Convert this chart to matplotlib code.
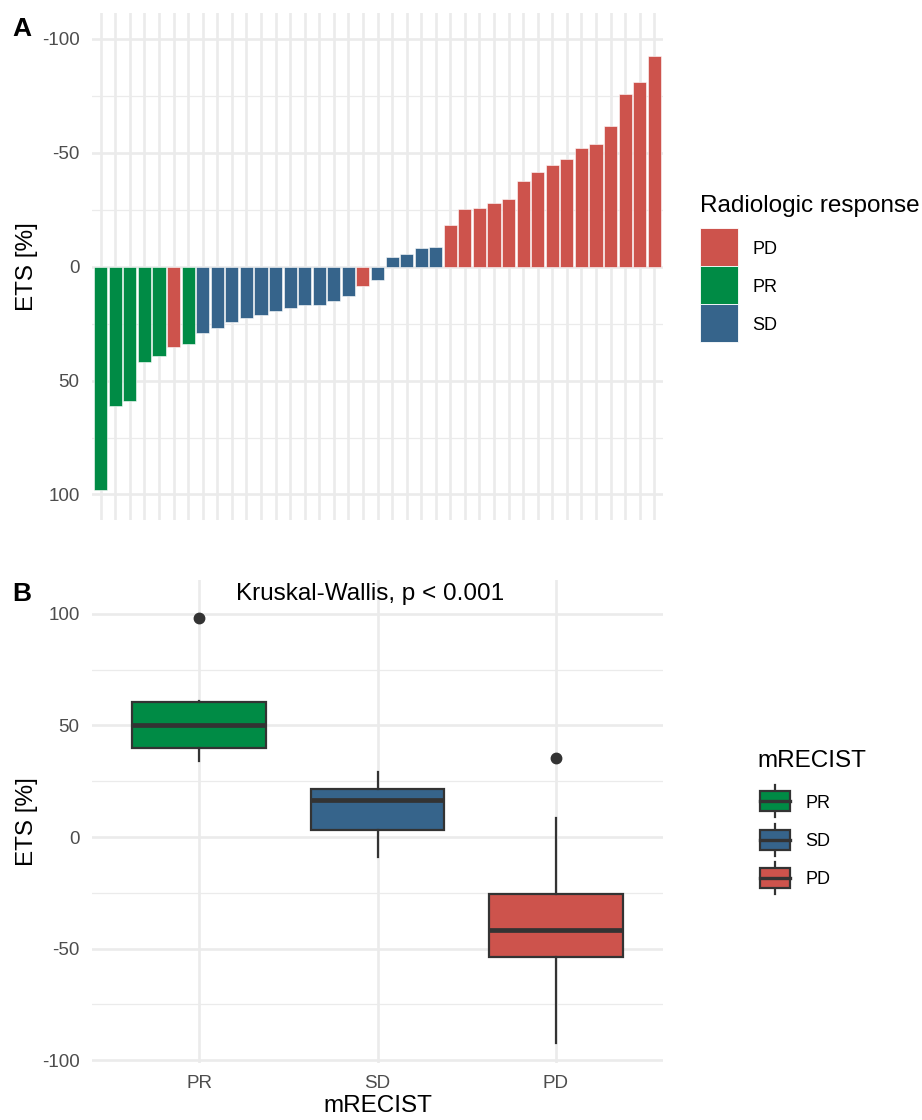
import matplotlib
matplotlib.use("Agg")
import matplotlib.pyplot as plt
from matplotlib.patches import Rectangle
import numpy as np

plt.rcParams['font.family'] = ['Liberation Sans', 'DejaVu Sans']
plt.rcParams['axes.unicode_minus'] = False

# ETS [%] per patient, ordered as in the waterfall (positive = shrinkage)
ets = [98.1, 61.0, 59.1, 41.7, 39.2, 35.4, 33.9, 29.1, 27.0, 24.4,
       22.4, 21.2, 19.6, 18.0, 16.8, 16.8, 15.1, 12.9, 8.5, 5.8,
       -4.2, -5.6, -8.2, -8.8, -18.3, -25.3, -25.7, -27.8, -29.8, -37.7,
       -41.5, -44.6, -47.5, -52.0, -53.8, -61.7, -75.9, -81.3, -92.5]
response = ['PR', 'PR', 'PR', 'PR', 'PR', 'PD', 'PR', 'SD', 'SD', 'SD',
            'SD', 'SD', 'SD', 'SD', 'SD', 'SD', 'SD', 'SD', 'PD', 'SD',
            'SD', 'SD', 'SD', 'SD', 'PD', 'PD', 'PD', 'PD', 'PD', 'PD',
            'PD', 'PD', 'PD', 'PD', 'PD', 'PD', 'PD', 'PD', 'PD']

legend_a_order = ['PD', 'PR', 'SD']
box_order = ['PR', 'SD', 'PD']
colors = {'PD': '#CD534C', 'PR': '#008B45', 'SD': '#36648B'}

yticks = [-100, -50, 0, 50, 100]
minor_yticks = [-75, -25, 25, 75]

GRID = '#EBEBEB'
TICKCOL = '#4D4D4D'
EDGE = '#333333'

W, H = 922, 1120
fig = plt.figure(figsize=(W / 100, H / 100), dpi=100)


def px_axes(left, top, right, bottom):
    return fig.add_axes([left / W, 1 - bottom / H, (right - left) / W, (bottom - top) / H])


def style(ax):
    for s in ax.spines.values():
        s.set_visible(False)
    ax.set_axisbelow(True)
    ax.tick_params(which='both', length=0, labelsize=13.5, labelcolor=TICKCOL)
    ax.set_yticks(yticks)
    ax.set_yticklabels([str(v) for v in yticks])
    ax.set_yticks(minor_yticks, minor=True)
    ax.grid(which='major', color=GRID, linewidth=1.9)
    ax.grid(which='minor', axis='y', color=GRID, linewidth=0.9)
    ax.tick_params(axis='y', pad=9)


# ---- Panel A: waterfall ----
axA = px_axes(92, 13, 663, 520)
x = np.arange(1, len(ets) + 1)
axA.bar(x, ets, width=0.9, color=[colors[r] for r in response],
        edgecolor='white', linewidth=0.4, zorder=3)
style(axA)
axA.set_xlim(0.4, len(ets) + 0.6)
axA.set_ylim(111.2, -111.4)
axA.set_xticks(x)
axA.set_xticklabels([])
axA.set_ylabel('ETS [%]', fontsize=17.5, labelpad=3)

# ---- Panel B: boxplot ----
axB = px_axes(92, 580, 663, 1063)
groups = [[v for v, r in zip(ets, response) if r == g] for g in box_order]
bp = axB.boxplot(groups, positions=[1, 2, 3], widths=0.75, patch_artist=True,
                 whis=1.5, showcaps=False,
                 boxprops=dict(edgecolor=EDGE, linewidth=1.6),
                 whiskerprops=dict(color=EDGE, linewidth=1.6),
                 medianprops=dict(color=EDGE, linewidth=3.4),
                 flierprops=dict(marker='o', markerfacecolor=EDGE, markeredgecolor=EDGE,
                                 markersize=7.5))
for patch, g in zip(bp['boxes'], box_order):
    patch.set_facecolor(colors[g])
    patch.set_zorder(3)
for part in ['whiskers', 'medians', 'fliers']:
    for ln in bp[part]:
        ln.set_zorder(4)
style(axB)
axB.set_xlim(0.4, 3.6)
axB.set_ylim(-101.3, 115.2)
axB.set_xticks([1, 2, 3])
axB.set_xticklabels(box_order)
axB.tick_params(axis='x', pad=9)
axB.set_ylabel('ETS [%]', fontsize=17.5, labelpad=3)
axB.set_xlabel('mRECIST', fontsize=17.5, labelpad=2)
axB.text(1.96, 109, 'Kruskal-Wallis, p < 0.001', fontsize=17.5, ha='center', va='center')

# ---- overlay for legends and panel tags (pixel coordinates) ----
lg = fig.add_axes([0, 0, 1, 1], zorder=5)
lg.set_xlim(0, W)
lg.set_ylim(H, 0)
lg.axis('off')
lg.patch.set_visible(False)

lg.text(12, 36, 'A', fontsize=19, fontweight='bold', va='baseline')
lg.text(12, 601, 'B', fontsize=19, fontweight='bold', va='baseline')

# legend A
lg.text(700, 212, 'Radiologic response', fontsize=17.5, va='baseline')
key_h = 38
for i, g in enumerate(legend_a_order):
    top = 228 + i * key_h
    lg.add_patch(Rectangle((700, top), 38, key_h, facecolor=colors[g],
                           edgecolor='white', linewidth=0.6))
    lg.text(752, top + key_h / 2 + 6.5, g, fontsize=13, va='baseline')

# legend B
lg.text(757, 767, 'mRECIST', fontsize=17.5, va='baseline')
for i, g in enumerate(box_order):
    cy = 801 + i * 38.5
    lg.plot([774.5, 774.5], [cy - 16, cy + 16], color=EDGE, lw=1.6)
    lg.add_patch(Rectangle((760, cy - 10), 30, 20, facecolor=colors[g],
                           edgecolor=EDGE, linewidth=1.6, zorder=3))
    lg.plot([760, 790], [cy, cy], color=EDGE, lw=2.4, zorder=4)
    lg.text(805, cy + 6.5, g, fontsize=13, va='baseline')

fig.savefig('out.png', dpi=100)
